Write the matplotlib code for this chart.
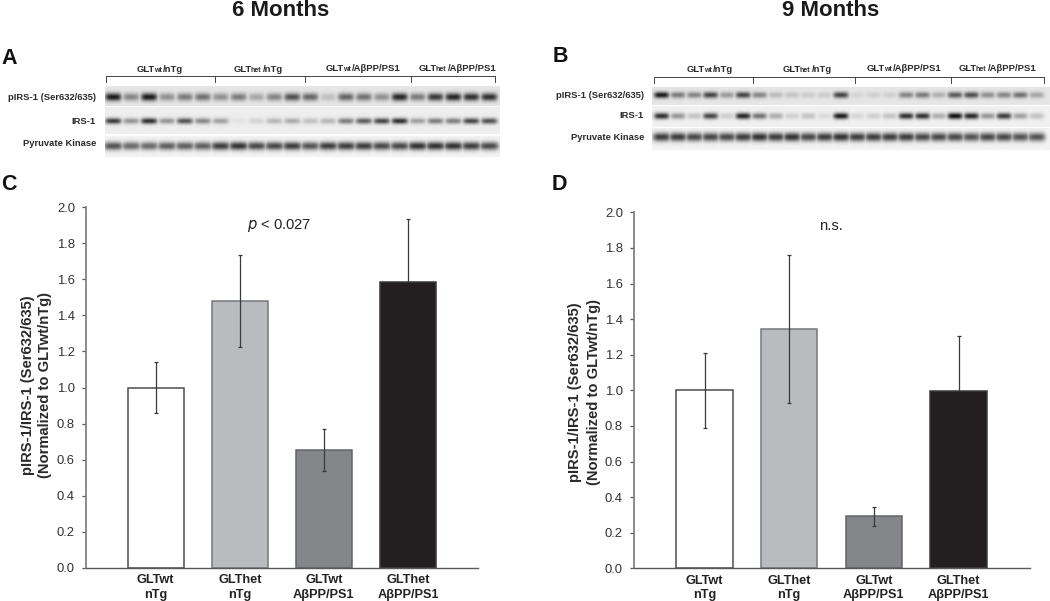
import numpy as np
import matplotlib
matplotlib.use("Agg")
import matplotlib.pyplot as plt

plt.rcParams['font.family'] = ['Liberation Sans', 'DejaVu Sans']

# ---- chart data
cat_labels = ['GLTwt\nnTg', 'GLThet\nnTg', 'GLTwt\nAβPP/PS1', 'GLThet\nAβPP/PS1']
means_6m = [1.00, 1.478, 0.653, 1.585]
errs_6m = [0.144, 0.255, 0.115, 0.350]
means_9m = [1.00, 1.344, 0.292, 0.997]
errs_9m = [0.211, 0.418, 0.053, 0.310]
y_ticks = [0.0, 0.2, 0.4, 0.6, 0.8, 1.0, 1.2, 1.4, 1.6, 1.8, 2.0]
bar_colors = ['#ffffff', '#babbbe', '#848689', '#231f20']
bar_edges = ['#4d4d4d', '#77787b', '#636466', '#3a3839']

# ---- blot band intensities, read lane by lane
a_pirs = [.95, .45, .95, .40, .50, .55, .40, .50, .30, .45, .70, .60, .18, .60, .55, .40, .90, .50, .80, .90, .85, .85]
a_irs = [.80, .40, .85, .40, .70, .45, .35, .05, .12, .25, .30, .20, .25, .50, .65, .75, .85, .35, .50, .50, .75, .70]
a_pk = [.70, .60, .60, .65, .65, .65, .80, .85, .75, .75, .80, .70, .80, .80, .80, .75, .75, .85, .85, .85, .80, .75]
b_pirs = [.95, .50, .45, .75, .35, .75, .45, .20, .15, .12, .12, .75, .08, .10, .10, .45, .50, .25, .65, .70, .40, .45, .55, .30]
b_irs = [.85, .40, .20, .75, .15, .90, .55, .30, .15, .20, .10, .95, .12, .15, .20, .85, .85, .30, 1.0, .90, .40, .80, .35, .20]
b_pk = [.80, .80, .75, .75, .75, .80, .85, .80, .85, .75, .80, .85, .80, .80, .80, .80, .75, .75, .75, .70, .75, .75, .70, .70]

W, H = 1050, 601
fig = plt.figure(figsize=(W / 100, H / 100), dpi=100, facecolor='white')


def px_axes(l, t, r, b, **kw):
    return fig.add_axes([l / W, 1 - b / H, (r - l) / W, (b - t) / H], **kw)


ov = px_axes(0, 0, W, H)
ov.set_xlim(0, W)
ov.set_ylim(H, 0)
ov.axis('off')


def strip(x0, x1, y0, y1, values, first, step, yc, bg, sy, sx):
    xs = np.arange(int(x0), int(x1)) + .5
    ys = np.arange(int(y0), int(y1)) + .5
    X, Y = np.meshgrid(xs, ys)
    dark = np.zeros_like(X)
    for i, v in enumerate(values):
        cx = first + i * step
        dark = np.maximum(dark, v * np.exp(-((X - cx) / sx) ** 4 - ((Y - yc) / sy) ** 2))
    img = bg * (1 - dark) + 0.07 * dark
    ov.imshow(img, cmap='gray', vmin=0, vmax=1, extent=(x0, x1, y1, y0),
              aspect='auto', interpolation='bilinear', zorder=1)


# Panel A
strip(105, 500, 86, 106, a_pirs, 113.3, 17.9, 97, .90, 4.0, 8.2)
strip(105, 500, 107, 134, a_irs, 113.3, 17.9, 121, .93, 3.0, 8.2)
strip(105, 500, 136, 157, a_pk, 113.3, 17.9, 146, .95, 4.2, 9.6)
# Panel B
strip(652, 1050, 87, 105, b_pirs, 661.7, 16.3, 95, .90, 3.2, 7.6)
strip(652, 1050, 106, 127, b_irs, 661.7, 16.3, 116, .94, 3.2, 7.6)
strip(652, 1050, 128, 150, b_pk, 661.7, 16.3, 137, .95, 4.4, 8.8)
ov.set_xlim(0, W)
ov.set_ylim(H, 0)


def bracket(ticks, y):
    ov.plot([ticks[0], ticks[-1]], [y, y], color='#444444', lw=.7, zorder=3)
    for t in ticks:
        ov.plot([t, t], [y, y + 6], color='#444444', lw=.7, zorder=3)


bracket([106, 214.7, 304.5, 411, 495], 76)
bracket([654, 753, 854.5, 950.5, 1044], 76.5)

renderer = fig.canvas.get_renderer()


def segmented(x, y, parts):
    for s, size, trim in parts:
        t = ov.text(x, y, s, fontsize=size, fontweight='bold', color='#2a2a2a',
                    ha='left', va='baseline', zorder=4)
        x += t.get_window_extent(renderer).width - trim


def group(x, y, sub, tail):
    segmented(x, y, [('GLT', 6.8, 1.5), (sub, 5.0, -1.5), (tail, 6.8, 0)])


group(137, 72, 'wt', '/nTg')
group(234, 72, 'het', '/nTg')
group(326, 71, 'wt', '/AβPP/PS1')
group(419, 71, 'het', '/AβPP/PS1')
group(687, 72, 'wt', '/nTg')
group(783, 72, 'het', '/nTg')
group(867, 71, 'wt', '/AβPP/PS1')
group(959, 71, 'het', '/AβPP/PS1')

row_names = ['pIRS-1 (Ser632/635)', 'IRS-1', 'Pyruvate Kinase']
for name, ya, yb in zip(row_names, [98, 122, 144], [95, 116, 137]):
    ov.text(96, ya, name, fontsize=6.75, fontweight='bold', color='#2a2a2a', ha='right', va='center')
    ov.text(644, yb, name, fontsize=6.75, fontweight='bold', color='#2a2a2a', ha='right', va='center')

ov.text(281, 11, '6 Months', fontsize=16, fontweight='bold', color='#1a1a1a', ha='center', va='center')
ov.text(831, 11, '9 Months', fontsize=16, fontweight='bold', color='#1a1a1a', ha='center', va='center')
for s, x, y in [('A', 1, 58), ('B', 553, 57), ('C', 1, 184), ('D', 552, 184)]:
    ov.text(x, y, s, fontsize=15.5, fontweight='bold', color='#111111', ha='left', va='center')


def bar_panel(l, t, r, b, first, step, means, errs, note, note_x, lab1, lab2, laby):
    ax = px_axes(l, t, r, b)
    ax.patch.set_alpha(0)
    x = np.arange(len(means))
    ax.bar(x, means, width=.667, color=bar_colors, edgecolor=bar_edges, linewidth=1.1, zorder=2)
    # the error bar of the darkest bar sits behind it, only its upper half shows
    for i in x:
        ax.errorbar([i], [means[i]], yerr=[errs[i]], fmt='none', ecolor='#3a3a3a', elinewidth=.9,
                    capsize=1.6, capthick=.9, zorder=1 if i == 3 else 3)
    ax.set_xlim(-(first - l) / step, (r - first) / step)
    ax.set_ylim(0, 2.0)
    ax.set_yticks(y_ticks)
    ax.set_yticklabels([f'{v:.1f}' for v in y_ticks], fontsize=9.4, color='#333333')
    ax.set_xticks(x)
    ax.set_xticklabels(cat_labels, fontsize=9.2, fontweight='bold', color='#222222', linespacing=1.3)
    ax.tick_params(axis='y', length=3.2, width=.9, color='#555555', pad=4.8)
    ax.tick_params(axis='x', length=0, pad=4.5)
    for s in ('top', 'right'):
        ax.spines[s].set_visible(False)
    ax.spines['left'].set_color('#808285')
    ax.spines['left'].set_linewidth(1.3)
    ax.spines['bottom'].set_color('#58595b')
    ax.spines['bottom'].set_linewidth(1.0)
    ov.text(lab1, laby, 'pIRS-1/IRS-1 (Ser632/635)', rotation=90, fontsize=10.6, fontweight='bold',
            color='#2a2a2a', ha='center', va='center')
    ov.text(lab2, laby, '(Normalized to GLTwt/nTg)', rotation=90, fontsize=10.6, fontweight='bold',
            color='#2a2a2a', ha='center', va='center')
    ov.text(note_x, 225.5, note, fontsize=10.6, color='#222222', ha='center', va='center')
    return ax


bar_panel(86, 207, 478, 568, 155.7, 84.1, means_6m, errs_6m,
          r'$\mathit{p}$ < 0.027', 279, 28, 45, 385)
bar_panel(634, 212.3, 1030, 568.3, 704.5, 84.7, means_9m, errs_9m,
          'n.s.', 831, 575, 594, 392)

fig.savefig('out.png', dpi=100, facecolor='white')
